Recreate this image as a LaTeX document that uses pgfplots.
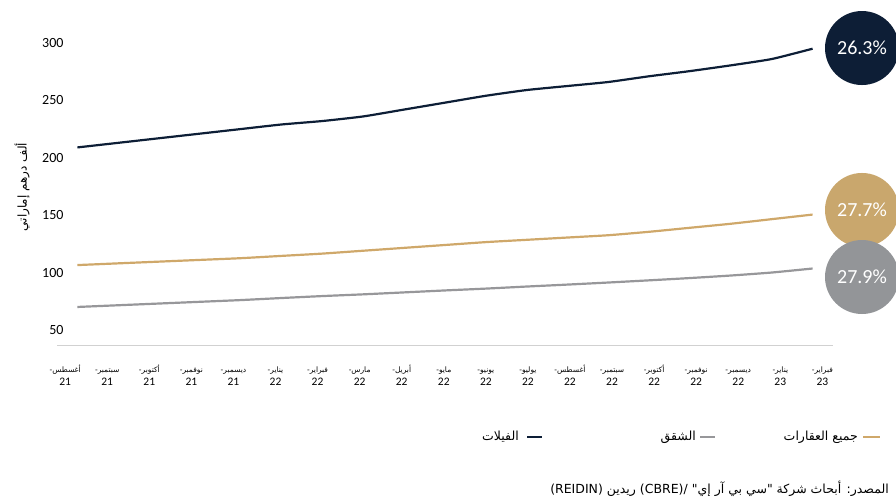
\documentclass[border=0pt]{standalone}
\usepackage{fontspec}
\usepackage{pgfplots}
\pgfplotsset{compat=1.18}
\setmainfont{Carlito}
\newfontfamily\arabicfont[Script=Arabic]{DejaVu Sans}
\TeXXeTstate=1
\newcommand{\ar}[1]{{\arabicfont\beginR #1\endR}}
\newcommand{\xl}[2]{{\arabicfont\fontsize{7.5}{9}\selectfont\beginR #1\endR}\rule{0pt}{11pt}\\#2}
\definecolor{navyc}{HTML}{0D1E36}
\definecolor{goldc}{HTML}{CFA86A}
\definecolor{grayc}{HTML}{97979A}
\definecolor{goldcirc}{HTML}{C9A76D}
\definecolor{graycirc}{HTML}{939598}
\begin{document}
\begin{tikzpicture}[x=1pt,y=1pt]
\useasboundingbox (0,0) rectangle (896,502);
\begin{axis}[
  at={(57pt,156pt)}, anchor=south west,
  scale only axis, width=776pt, height=314.5pt,
  xmin=-0.5, xmax=18.5, ymin=36, ymax=310,
  axis line style={draw=none},
  tick style={draw=none},
  clip=false,
  /pgf/number format/assume math mode=true,
  ytick={50,100,150,200,250,300},
  yticklabel style={font=\fontsize{14}{14}\selectfont, xshift=10pt},
  xtick={-0.30,0.73,1.76,2.79,3.82,4.85,5.88,6.91,7.94,8.97,10.00,11.03,12.06,13.09,14.12,15.15,16.18,17.21,18.24},
  xticklabels={
    \xl{أغسطس-}{21}, \xl{سبتمبر-}{21}, \xl{أكتوبر-}{21}, \xl{نوفمبر-}{21}, \xl{ديسمبر-}{21},
    \xl{يناير-}{22}, \xl{فبراير-}{22}, \xl{مارس-}{22}, \xl{أبريل-}{22}, \xl{مايو-}{22},
    \xl{يونيو-}{22}, \xl{يوليو-}{22}, \xl{أغسطس-}{22}, \xl{سبتمبر-}{22}, \xl{أكتوبر-}{22},
    \xl{نوفمبر-}{22}, \xl{ديسمبر-}{22}, \xl{يناير-}{23}, \xl{فبراير-}{23}},
  xticklabel style={align=center, font=\fontsize{11.5}{13}\selectfont, yshift=-12pt},
]
\draw[black!18, line width=1pt] (rel axis cs:0,0) -- (rel axis cs:1,0);
% Villas
\addplot[navyc, line width=2.2pt, smooth, tension=0.3] coordinates {
(0,209) (1,213) (2,217) (3,221) (4,225) (5,229) (6,232) (7,236) (8,242) (9,248)
(10,254) (11,259) (12,262.5) (13,266) (14,271) (15,275.5) (16,280.5) (17,286) (18,295)};
% All properties
\addplot[goldc, line width=2.2pt, smooth, tension=0.3] coordinates {
(0,106.5) (1,108) (2,109.5) (3,111) (4,112.5) (5,114.5) (6,116.5) (7,119) (8,121.5) (9,124)
(10,126.5) (11,128.5) (12,130.5) (13,132.5) (14,135.5) (15,139) (16,142.5) (17,146.5) (18,150.5)};
% Apartments
\addplot[grayc, line width=2.2pt, smooth, tension=0.3] coordinates {
(0,70) (1,71.5) (2,73) (3,74.5) (4,76) (5,77.8) (6,79.5) (7,81) (8,82.7) (9,84.4)
(10,86) (11,87.8) (12,89.5) (13,91.3) (14,93.2) (15,95.2) (16,97.4) (17,100) (18,103.5)};
\node[circle, fill=navyc, minimum size=74pt, inner sep=0pt, text=white, font=\fontsize{20}{20}\selectfont] at (axis cs:19.21,295.6) {26.3\%};
\node[circle, fill=goldcirc, minimum size=74pt, inner sep=0pt, text=white, font=\fontsize{20}{20}\selectfont] at (axis cs:19.21,154.5) {27.7\%};
\node[circle, fill=graycirc, minimum size=74pt, inner sep=0pt, text=white, font=\fontsize{20}{20}\selectfont] at (axis cs:19.21,96.1) {27.9\%};
\end{axis}
\node[rotate=90, font=\fontsize{12}{12}\selectfont] at (22,315) {\ar{ألف درهم إماراتي}};
% legend
\draw[goldc, line width=2.2pt] (863,65) -- (880,65);
\node[anchor=east, font=\fontsize{12.5}{12.5}\selectfont, inner sep=0pt] at (858,65) {\ar{جميع العقارات}};
\draw[grayc, line width=2.2pt] (700,65) -- (715,65);
\node[anchor=east, font=\fontsize{12.5}{12.5}\selectfont, inner sep=0pt] at (696,65) {\ar{الشقق}};
\draw[navyc, line width=2.2pt] (527,65) -- (542,65);
\node[anchor=east, font=\fontsize{12.5}{12.5}\selectfont, inner sep=0pt] at (519,65) {\ar{الفيلات}};
% source
\node[anchor=east, font=\fontsize{12.5}{12.5}\selectfont, inner sep=0pt] at (889,13) {\ar{المصدر: أبحاث شركة "سي بي آر إي" (CBRE)/ ريدين (REIDIN)}};
\end{tikzpicture}
\end{document}
